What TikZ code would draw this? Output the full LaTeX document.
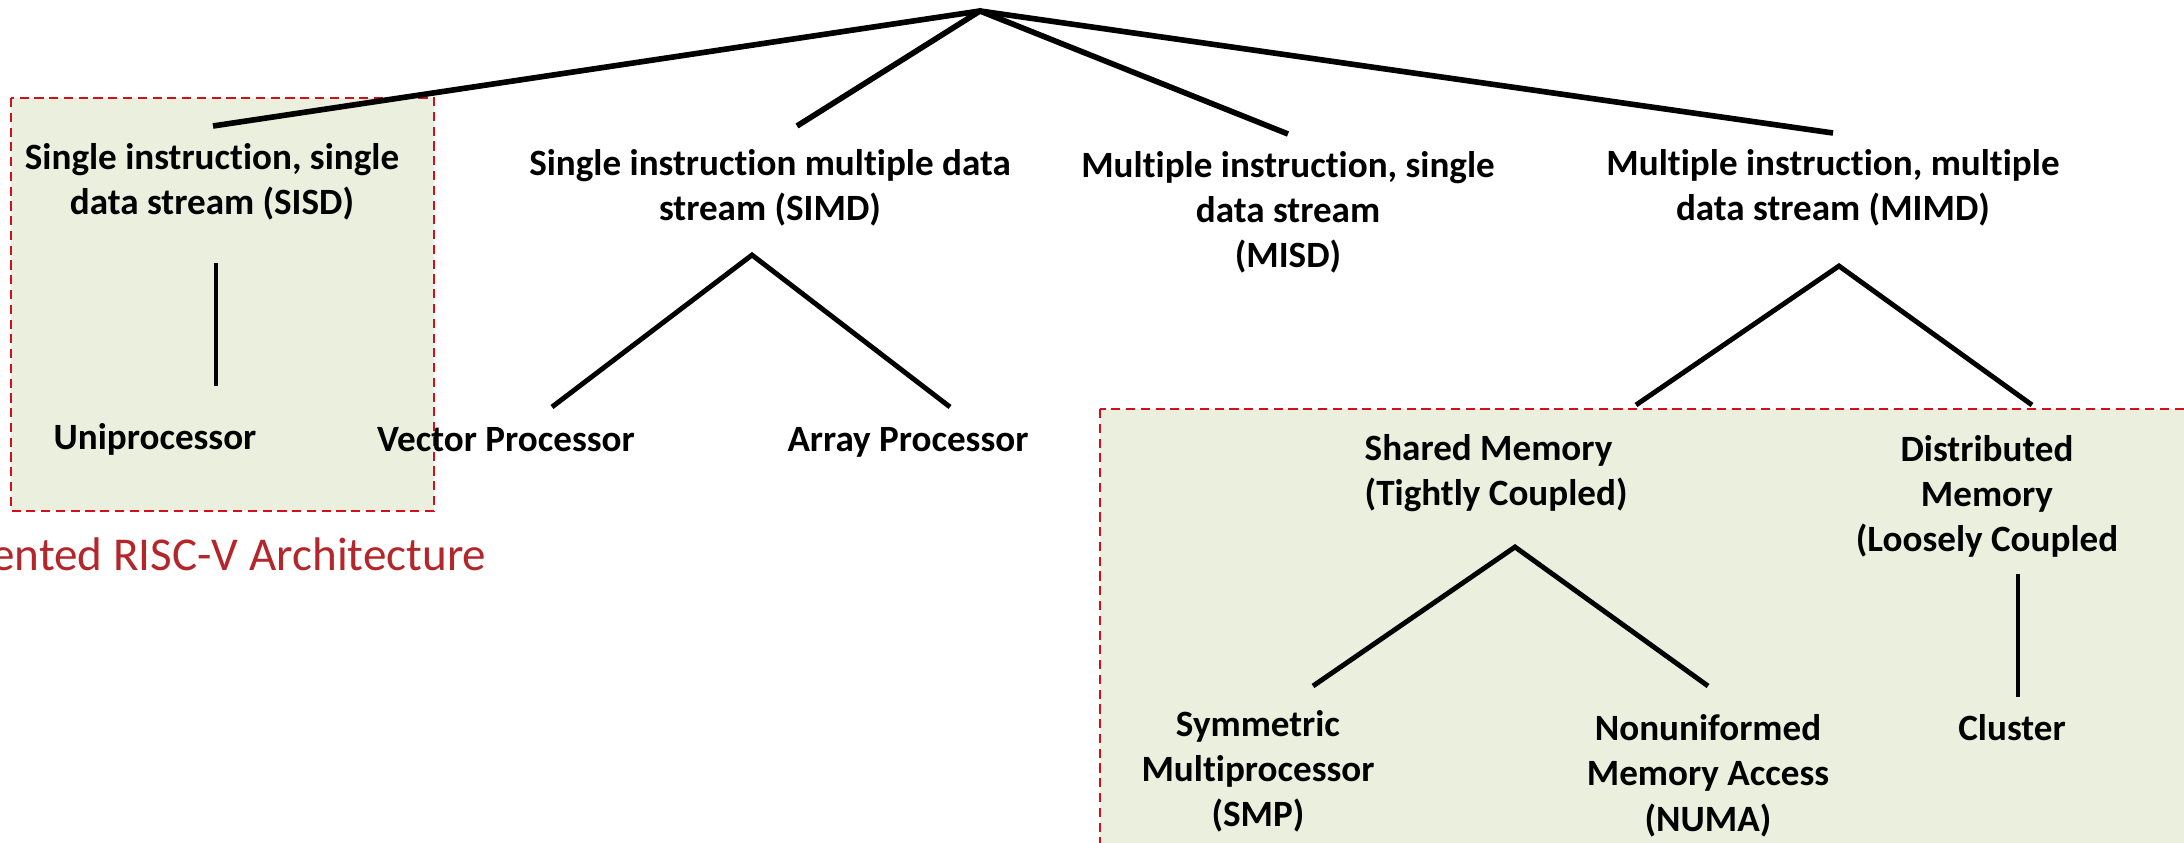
\documentclass[tikz,border=0pt]{standalone}
\usepackage{fontspec}
\setmainfont[Ligatures=NoCommon]{Carlito}
\definecolor{fxbox}{HTML}{EBEFDE}
\definecolor{fxdash}{HTML}{D0101A}
\definecolor{fxnote}{HTML}{B5262B}

\begin{document}
\begin{tikzpicture}[x=0.01cm,y=-0.01cm,
  lbl/.style={font=\fontsize{10.55}{12.8}\selectfont\bfseries,align=center,inner sep=0pt,anchor=base},
  trunk/.style={line width=1.6pt},
  twig/.style={line width=1.4pt},
  group/.style={fill=fxbox,draw=fxdash,line width=0.6pt,dash pattern=on 2.6pt off 1.6pt}]
  \useasboundingbox[fill=white] (0,0) rectangle (2184,843);
  % shaded groups
  \draw[group] (11,98) rectangle (434,511);
  \draw[group] (1100,409) rectangle (2200,870);
  % labels (placed at the baseline of their last line)
  \node[lbl] (sisd) at (212,215) {Single instruction, single\\data stream (SISD)};
  \node[lbl] (simd) at (770,221) {Single instruction multiple data\\stream (SIMD)};
  \node[lbl] (misd) at (1288,268) {Multiple instruction, single\\data stream\\(MISD)};
  \node[lbl] (mimd) at (1833,221) {Multiple instruction, multiple\\data stream (MIMD)};
  \node[lbl] (uni) at (155,450) {Uniprocessor};
  \node[lbl] (vec) at (506,452) {Vector Processor};
  \node[lbl] (arr) at (908,452) {Array Processor};
  \node[lbl,anchor=base west,align=left] (shm) at (1364,506) {Shared Memory\\(Tightly Coupled)};
  \node[lbl] (dsm) at (1987,552) {Distributed\\Memory\\(Loosely Coupled};
  \node[lbl] (smp) at (1258,827) {Symmetric\\Multiprocessor\\(SMP)};
  \node[lbl] (numa) at (1708,831) {Nonuniformed\\Memory Access\\(NUMA)};
  \node[lbl] (clu) at (2012,740) {Cluster};
  \node[font=\fontsize{13.4}{16}\selectfont,text=fxnote,inner sep=0pt,anchor=base east] (note) at (487,571) {ented RISC-V Architecture};
  % line ends
  \coordinate (root) at (980,11);
  \coordinate (sisd-up) at (213,126);
  \coordinate (simd-up) at (797,126);
  \coordinate (misd-up) at (1288,134);
  \coordinate (mimd-up) at (1833,133);
  \coordinate (sisd-dn) at (216,263);
  \coordinate (uni-up) at (216,386);
  \coordinate (simd-dn) at (752,255);
  \coordinate (vec-up) at (552,407);
  \coordinate (arr-up) at (950,407);
  \coordinate (mimd-dn) at (1839,266);
  \coordinate (shm-up) at (1636,405);
  \coordinate (dsm-up) at (2032,405);
  \coordinate (shm-dn) at (1515,547);
  \coordinate (smp-up) at (1313,686);
  \coordinate (numa-up) at (1708,686);
  \coordinate (dsm-dn) at (2018,574);
  \coordinate (clu-up) at (2018,697);
  % tree
  \draw[trunk] (sisd-up) -- (root) -- (mimd-up);
  \draw[trunk] (simd-up) -- (root) -- (misd-up);
  \draw[twig] (sisd-dn) -- (uni-up);
  \draw[twig] (vec-up) -- (simd-dn) -- (arr-up);
  \draw[twig] (shm-up) -- (mimd-dn) -- (dsm-up);
  \draw[twig] (smp-up) -- (shm-dn) -- (numa-up);
  \draw[twig] (dsm-dn) -- (clu-up);
\end{tikzpicture}
\end{document}
